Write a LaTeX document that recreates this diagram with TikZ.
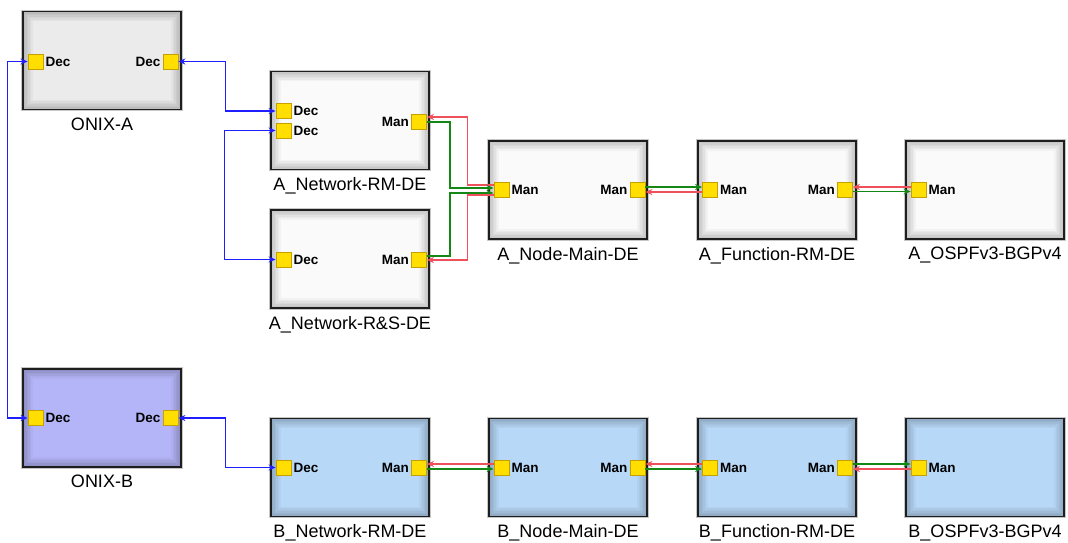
\documentclass[tikz,border=0pt]{standalone}
\usepackage{fontspec}
\setmainfont{Liberation Sans}
\usetikzlibrary{arrows.meta}

\definecolor{decblue}{RGB}{30,30,255}
\definecolor{manred}{RGB}{238,80,92}
\definecolor{mangreen}{RGB}{20,135,20}
\definecolor{portyellow}{RGB}{255,222,0}
\definecolor{portdark}{RGB}{196,160,0}
\definecolor{boxline}{RGB}{30,30,30}
\definecolor{onixa}{RGB}{235,235,235}
\definecolor{unita}{RGB}{250,250,250}
\definecolor{onixb}{RGB}{180,180,248}
\definecolor{unitb}{RGB}{184,216,248}

\tikzset{
  unit/.style={draw=boxline, line width=1.6pt, fill=#1,
    minimum width=158, minimum height=98, inner sep=0pt,
    preaction={draw=gray!45, line width=3.6pt},
    path picture={
      \foreach \d [evaluate=\d as \op using 0.24-0.035*\d] in {1,...,6}
        \draw[black, opacity=\op, line width=1.5pt]
          ([shift={(1.5*\d,1.5*\d)}]path picture bounding box.north west) rectangle
          ([shift={(-1.5*\d,-1.5*\d)}]path picture bounding box.south east);
    }},
  boxlabel/.style={font=\fontsize{18}{20}\selectfont, yshift=-4pt},
  port/.style={draw=portdark, line width=0.8pt, fill=portyellow,
    minimum size=15, inner sep=0pt},
  ptext/.style={font=\bfseries\fontsize{13.5}{15}\selectfont, inner sep=2pt},
  dec/.style={decblue, line width=1.5pt, {Stealth[length=7pt,width=6pt]}-{Stealth[length=7pt,width=6pt]}},
  manR/.style={manred, line width=1.5pt, -{Stealth[length=7pt,width=6pt]}},
  manG/.style={mangreen, line width=1.5pt, -{Stealth[length=7pt,width=6pt]}},
  label distance=0pt
}

\begin{document}
\begin{tikzpicture}[x=1pt,y=-1pt]
  \useasboundingbox (0,0) rectangle (1068,542);

  % ONIX units
  \node[unit=onixa, label={[boxlabel]below:ONIX-A}] (onixA) at (102,60.5) {};
  \node[unit=onixb, label={[boxlabel]below:ONIX-B}] (onixB) at (102,418) {};

  % A side
  \node[unit=unita, label={[boxlabel]below:A\_Network-RM-DE}] (netArm) at (350,120.5) {};
  \node[unit=unita, label={[boxlabel]below:A\_Network-R\&S-DE}] (netAs) at (350,259) {};
  \node[unit=unita, label={[boxlabel]below:A\_Node-Main-DE}] (nodeA) at (568,190) {};
  \node[unit=unita, label={[boxlabel]below:A\_Function-RM-DE}] (funcA) at (777,190) {};
  \node[unit=unita, label={[boxlabel]below:A\_OSPFv3-BGPv4}] (ospfA) at (985,190) {};

  % B side
  \node[unit=unitb, label={[boxlabel]below:B\_Network-RM-DE}] (netB) at (350,467.5) {};
  \node[unit=unitb, label={[boxlabel]below:B\_Node-Main-DE}] (nodeB) at (568,467.5) {};
  \node[unit=unitb, label={[boxlabel]below:B\_Function-RM-DE}] (funcB) at (777,467.5) {};
  \node[unit=unitb, label={[boxlabel]below:B\_OSPFv3-BGPv4}] (ospfB) at (985,467.5) {};

  % Ports
  \node[port, label={[ptext]right:Dec}] (onixAl) at (35.5,61.5) {};
  \node[port, label={[ptext]left:Dec}] (onixAr) at (170.5,61.5) {};
  \node[port, label={[ptext]right:Dec}] (onixBl) at (35.5,418) {};
  \node[port, label={[ptext]left:Dec}] (onixBr) at (170.5,418) {};

  \node[port, label={[ptext]right:Dec}] (netArmD1) at (283.5,111) {};
  \node[port, label={[ptext]right:Dec}] (netArmD2) at (283.5,130.5) {};
  \node[port, label={[ptext]left:Man}] (netArmM) at (419,122) {};
  \node[port, label={[ptext]right:Dec}] (netAsD) at (283.5,259.5) {};
  \node[port, label={[ptext]left:Man}] (netAsM) at (419,259.5) {};
  \node[port, label={[ptext]right:Man}] (nodeAl) at (501.5,190) {};
  \node[port, label={[ptext]left:Man}] (nodeAr) at (637.5,190) {};
  \node[port, label={[ptext]right:Man}] (funcAl) at (710,190) {};
  \node[port, label={[ptext]left:Man}] (funcAr) at (845,190) {};
  \node[port, label={[ptext]right:Man}] (ospfAl) at (918.5,190) {};

  \node[port, label={[ptext]right:Dec}] (netBl) at (283.5,467.5) {};
  \node[port, label={[ptext]left:Man}] (netBr) at (419,467.5) {};
  \node[port, label={[ptext]right:Man}] (nodeBl) at (501.5,467.5) {};
  \node[port, label={[ptext]left:Man}] (nodeBr) at (637.5,467.5) {};
  \node[port, label={[ptext]right:Man}] (funcBl) at (710,467.5) {};
  \node[port, label={[ptext]left:Man}] (funcBr) at (845,467.5) {};
  \node[port, label={[ptext]right:Man}] (ospfBl) at (918.5,467.5) {};

  % Dec links
  \draw[dec] (onixAr.east) -- ++(47,0) |- (netArmD1.west);
  \draw[dec] (netArmD2.west) -- ++(-51,0) |- (netAsD.west);
  \draw[dec] (onixAl.west) -- ++(-20,0) |- (onixBl.west);
  \draw[dec] (onixBr.east) -- ++(47,0) |- (netBl.west);

  % Man links, A side
  \draw[manR] ([yshift=5]nodeAl.west) -- ++(-26,0) |- ([yshift=5]netArmM.east);
  \draw[manG] (netArmM.east) -- ++(23,0) |- ([yshift=2]nodeAl.west);
  \draw[manG] ([yshift=3.5]netAsM.east) -- ++(23,0) |- ([yshift=-3]nodeAl.west);
  \draw[manR] ([yshift=-5]nodeAl.west) -- ++(-26,0) |- ([yshift=-0.5]netAsM.east);
  \draw[manG] ([yshift=3]nodeAr.east) -- ([yshift=3]funcAl.west);
  \draw[manR] ([yshift=-2]funcAl.west) -- ([yshift=-2]nodeAr.east);
  \draw[manR] ([yshift=3]ospfAl.west) -- ([yshift=3]funcAr.east);
  \draw[manG] ([yshift=-1.5]funcAr.east) -- ([yshift=-1.5]ospfAl.west);

  % Man links, B side
  \draw[manR] ([yshift=3.5]nodeBl.west) -- ([yshift=3.5]netBr.east);
  \draw[manG] ([yshift=-1.5]netBr.east) -- ([yshift=-1.5]nodeBl.west);
  \draw[manR] ([yshift=3.5]funcBl.west) -- ([yshift=3.5]nodeBr.east);
  \draw[manG] ([yshift=-1.5]nodeBr.east) -- ([yshift=-1.5]funcBl.west);
  \draw[manG] ([yshift=3.5]funcBr.east) -- ([yshift=3.5]ospfBl.west);
  \draw[manR] ([yshift=-1.5]ospfBl.west) -- ([yshift=-1.5]funcBr.east);
\end{tikzpicture}
\end{document}
